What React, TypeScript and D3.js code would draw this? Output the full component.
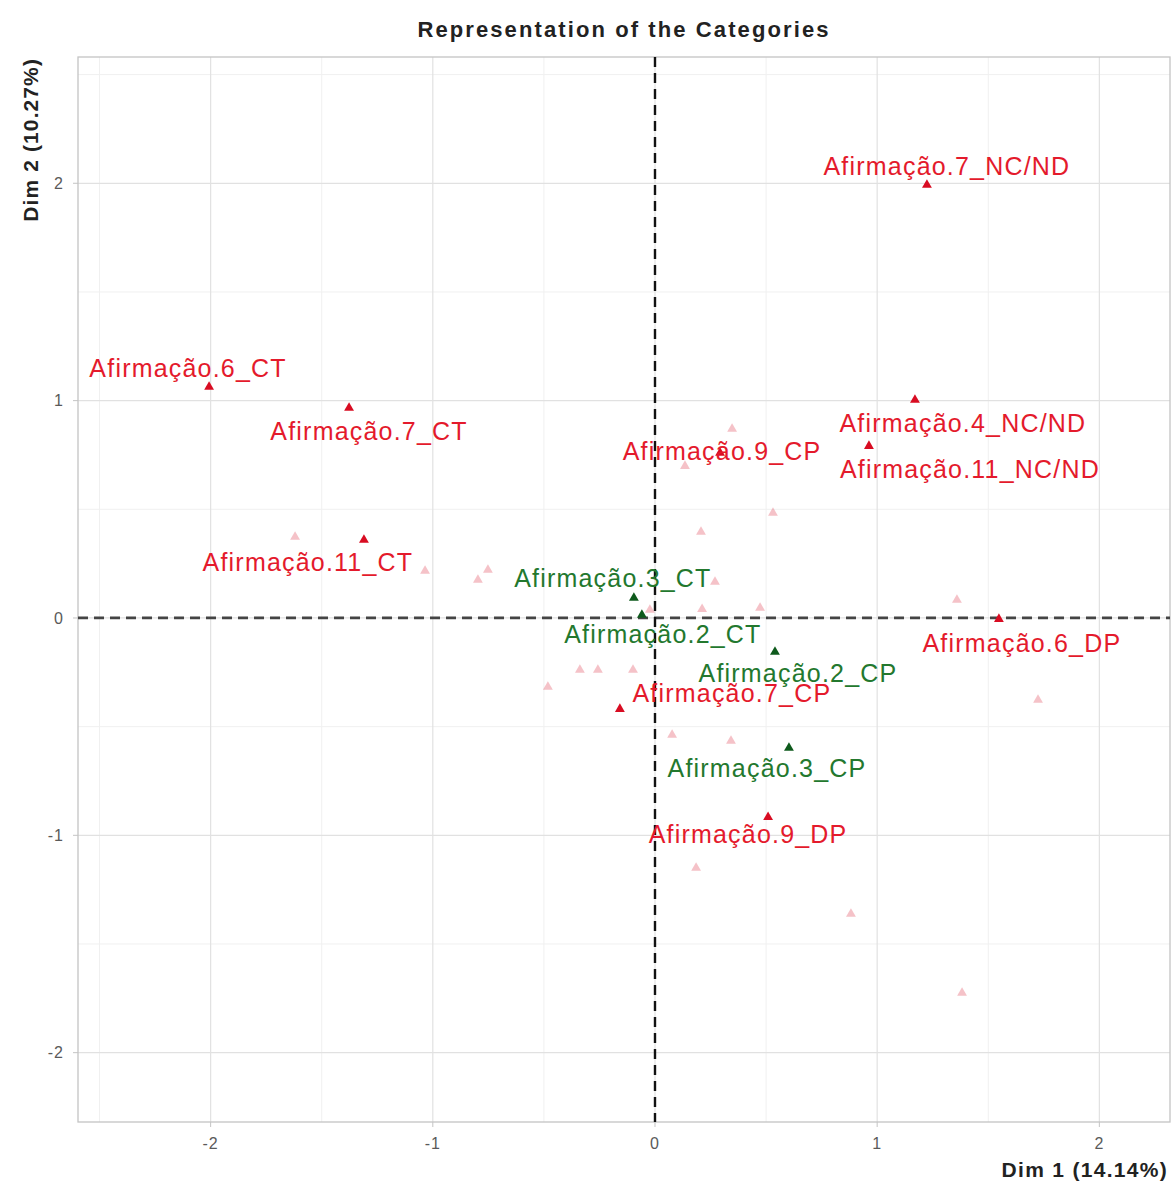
import React from "react";
import * as d3 from "d3";

// Highlighted categories (coordinates on Dim 1 / Dim 2)
const redLabels = [
  "Afirmação.7_NC/ND",
  "Afirmação.6_CT",
  "Afirmação.7_CT",
  "Afirmação.4_NC/ND",
  "Afirmação.11_NC/ND",
  "Afirmação.9_CP",
  "Afirmação.11_CT",
  "Afirmação.6_DP",
  "Afirmação.7_CP",
  "Afirmação.9_DP",
];
const redDim1 = [1.224, -2.007, -1.377, 1.17, 0.963, 0.293, -1.31, 1.548, -0.158, 0.509];
const redDim2 = [1.992, 1.063, 0.966, 1.003, 0.791, 0.759, 0.359, -0.005, -0.419, -0.916];

const greenLabels = ["Afirmação.3_CT", "Afirmação.2_CT", "Afirmação.2_CP", "Afirmação.3_CP"];
const greenDim1 = [-0.095, -0.059, 0.54, 0.603];
const greenDim2 = [0.092, 0.014, -0.156, -0.598];

// Remaining (unlabelled) categories
const otherDim1 = [
  0.347, 0.135, 0.531, 0.207, 0.27, 0.212, 0.473, -0.023, -0.752, -0.797, -1.035, -1.62,
  -0.338, -0.257, -0.099, -0.482, 0.077, 0.342, 0.185, 0.882, 1.382, 1.359, 1.724,
];
const otherDim2 = [
  0.87, 0.699, 0.483, 0.396, 0.166, 0.041, 0.046, 0.037, 0.221, 0.175, 0.216, 0.373,
  -0.239, -0.239, -0.239, -0.317, -0.538, -0.566, -1.15, -1.362, -1.725, 0.083, -0.377,
];

const xTicks = [-2, -1, 0, 1, 2];
const yTicks = [-2, -1, 0, 1, 2];
const xMinor = [-2.5, -1.5, -0.5, 0.5, 1.5];
const yMinor = [-1.5, -0.5, 0.5, 1.5, 2.5];

// Repelled label placement (pixel offsets from each marker: dx, dy to baseline)
const redLabelOffsets: [number, number][] = [
  [20, -10], [-21, -10], [20, 32], [48, 32], [101, 32],
  [2, 7], [-56, 31], [23, 33], [112, -7], [-20, 26],
];
const greenLabelOffsets: [number, number][] = [
  [-21, -11], [21, 28], [23, 30], [-22, 29],
];

const W = 1176;
const H = 1184;
const panel = { left: 78, top: 57, right: 1170, bottom: 1122 };

export default function App() {
  const x = d3.scaleLinear().domain([-2.597, 2.318]).range([panel.left, panel.right]);
  const y = d3.scaleLinear().domain([-2.319, 2.581]).range([panel.bottom, panel.top]);
  const tri = d3.symbol().type(d3.symbolTriangle).size(42)() as string;

  const font = "'Liberation Sans', Arial, sans-serif";
  const red = "#e41a2c";
  const redMark = "#d80c22";
  const green = "#23782e";
  const greenMark = "#0e5a1c";

  return (
    <svg
      width={W}
      height={H}
      style={{ position: "absolute", left: 0, top: 0, background: "#fff" }}
      fontFamily={font}
    >
      <rect x={0} y={0} width={W} height={H} fill="#fff" />
      {/* grid */}
      {xMinor.map((v) => (
        <line key={"xm" + v} x1={x(v)} x2={x(v)} y1={panel.top} y2={panel.bottom} stroke="#f0f0f0" strokeWidth={1} />
      ))}
      {yMinor.map((v) => (
        <line key={"ym" + v} x1={panel.left} x2={panel.right} y1={y(v)} y2={y(v)} stroke="#f0f0f0" strokeWidth={1} />
      ))}
      {xTicks.map((v) => (
        <line key={"xg" + v} x1={x(v)} x2={x(v)} y1={panel.top} y2={panel.bottom} stroke="#e1e1e1" strokeWidth={1.2} />
      ))}
      {yTicks.map((v) => (
        <line key={"yg" + v} x1={panel.left} x2={panel.right} y1={y(v)} y2={y(v)} stroke="#e1e1e1" strokeWidth={1.2} />
      ))}
      <rect
        x={panel.left}
        y={panel.top}
        width={panel.right - panel.left}
        height={panel.bottom - panel.top}
        fill="none"
        stroke="#c4c4c4"
        strokeWidth={1.3}
      />

      {/* axis ticks and labels */}
      {xTicks.map((v) => (
        <g key={"xt" + v}>
          <line x1={x(v)} x2={x(v)} y1={panel.bottom} y2={panel.bottom + 5} stroke="#c4c4c4" />
          <text x={x(v)} y={1149} textAnchor="middle" fontSize={16} fill="#5a5a5a" letterSpacing={1}>
            {v}
          </text>
        </g>
      ))}
      {yTicks.map((v) => (
        <g key={"yt" + v}>
          <line x1={panel.left - 5} x2={panel.left} y1={y(v)} y2={y(v)} stroke="#c4c4c4" />
          <text x={64} y={y(v)} dy="0.35em" textAnchor="end" fontSize={16} fill="#5a5a5a" letterSpacing={1}>
            {v}
          </text>
        </g>
      ))}

      {/* reference lines through the origin */}
      <line x1={panel.left} x2={panel.right} y1={y(0)} y2={y(0)} stroke="#444" strokeWidth={2.8} strokeDasharray="10,6" />
      <line x1={x(0)} x2={x(0)} y1={panel.top} y2={panel.bottom} stroke="#111" strokeWidth={2.4} strokeDasharray="10,6" />

      {/* unlabelled categories */}
      {otherDim1.map((v, i) => (
        <path key={"o" + i} d={tri} transform={`translate(${x(v)},${y(otherDim2[i])})`} fill={redMark} opacity={0.25} />
      ))}

      {/* highlighted categories */}
      {redDim1.map((v, i) => (
        <path key={"r" + i} d={tri} transform={`translate(${x(v)},${y(redDim2[i])})`} fill={redMark} />
      ))}
      {greenDim1.map((v, i) => (
        <path key={"g" + i} d={tri} transform={`translate(${x(v)},${y(greenDim2[i])})`} fill={greenMark} />
      ))}

      {redLabels.map((t, i) => (
        <text
          key={"rl" + i}
          x={x(redDim1[i]) + redLabelOffsets[i][0]}
          y={y(redDim2[i]) + redLabelOffsets[i][1]}
          textAnchor="middle"
          fontSize={25}
          letterSpacing={1.2}
          fill={red}
        >
          {t}
        </text>
      ))}
      {greenLabels.map((t, i) => (
        <text
          key={"gl" + i}
          x={x(greenDim1[i]) + greenLabelOffsets[i][0]}
          y={y(greenDim2[i]) + greenLabelOffsets[i][1]}
          textAnchor="middle"
          fontSize={25}
          letterSpacing={1.2}
          fill={green}
        >
          {t}
        </text>
      ))}

      {/* titles */}
      <text x={(panel.left + panel.right) / 2} y={37} textAnchor="middle" fontSize={22} fontWeight="bold" fill="#222" letterSpacing={2.1}>
        Representation of the Categories
      </text>
      <text x={1168} y={1177} textAnchor="end" fontSize={21} fontWeight="bold" fill="#222" letterSpacing={1.3}>
        Dim 1 (14.14%)
      </text>
      <text transform="translate(38,58) rotate(-90)" textAnchor="end" fontSize={21} fontWeight="bold" fill="#222" letterSpacing={1.1}>
        Dim 2 (10.27%)
      </text>
    </svg>
  );
}
